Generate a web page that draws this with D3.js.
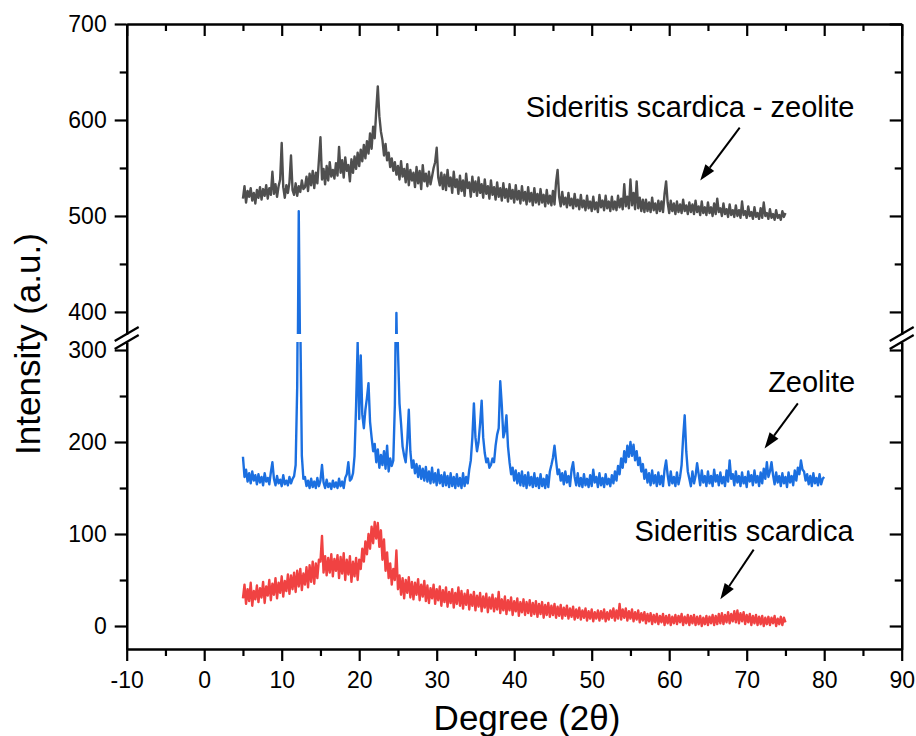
<!DOCTYPE html>
<html>
<head>
<meta charset="utf-8">
<script src="https://cdn.jsdelivr.net/npm/d3@7"></script>
<style>
  body { margin: 0; background: #fff; }
  text { font-family: "Liberation Sans", Arial, sans-serif; fill: #000; }
</style>
</head>
<body>
<div class="chart"></div>
<script>

// XRD patterns: one value every 0.2 degrees (2 theta)
var angleStart = 5, angleStep = 0.2;

// Sideritis scardica - zeolite, 5.0 .. 75.0
var sideritisZeolite = [
  518, 531, 514, 526, 520, 529, 516, 524, 513, 527,
  519, 530, 517, 528, 521, 532, 518, 529, 522, 546,
  523, 533, 520, 531, 538, 576, 530, 519, 532, 524,
  535, 563, 527, 522, 534, 521, 531, 525, 537, 528,
  530, 541, 526, 544, 532, 547, 529, 545, 534, 558,
  582, 538, 549, 533, 552, 537, 556, 541, 548, 539,
  555, 542, 572, 545, 558, 540, 561, 547, 553, 536,
  559, 545, 562, 549, 566, 552, 569, 557, 574, 560,
  578, 565, 586, 570, 593, 581, 610, 635, 604, 588,
  579, 563, 575, 558, 566, 551, 560, 547, 556, 543,
  552, 538, 557, 541, 549, 535, 554, 532, 548, 537,
  545, 530, 551, 534, 547, 528, 553, 536, 544, 531,
  546, 533, 541, 550, 556, 571, 540, 532, 545, 528,
  543, 527, 548, 531, 540, 524, 546, 530, 538, 523,
  542, 526, 537, 521, 544, 529, 535, 520, 541, 525,
  536, 521, 540, 524, 533, 519, 538, 523, 531, 518,
  537, 522, 530, 517, 535, 520, 529, 516, 534, 519,
  528, 515, 533, 518, 527, 514, 532, 517, 526, 513,
  531, 516, 525, 512, 530, 515, 524, 511, 529, 514,
  523, 512, 528, 514, 522, 510, 527, 513, 521, 511,
  526, 512, 535, 548, 520, 510, 525, 512, 519, 509,
  524, 511, 518, 508, 523, 510, 517, 507, 522, 509,
  516, 506, 521, 508, 515, 505, 520, 507, 514, 504,
  522, 509, 516, 506, 521, 508, 515, 505, 520, 507,
  515, 506, 521, 509, 518, 507, 533, 510, 520, 508,
  538, 511, 524, 507, 536, 508, 519, 505, 517, 504,
  517, 505, 514, 504, 519, 506, 513, 503, 516, 505,
  515, 504, 523, 536, 514, 503, 516, 505, 513, 502,
  515, 504, 512, 503, 517, 505, 511, 502, 514, 504,
  512, 502, 516, 504, 510, 501, 515, 503, 509, 501,
  514, 503, 509, 500, 513, 502, 518, 504, 508, 500,
  513, 502, 507, 499, 512, 501, 506, 499, 511, 500,
  506, 498, 515, 501, 505, 498, 510, 500, 504, 497,
  509, 499, 503, 497, 508, 498, 514, 500, 503, 497,
  507, 498, 502, 496, 506, 498, 501, 496, 505, 499,
  503
];

// Zeolite, 5.0 .. 80.0
var zeolite = [
  184, 162, 170, 157, 166, 155, 168, 158, 164, 154,
  165, 156, 162, 153, 166, 157, 161, 154, 167, 178,
  160, 153, 163, 155, 159, 152, 164, 154, 158, 153,
  162, 155, 160, 163, 175, 260, 505, 330, 185, 160,
  162, 152, 158, 150, 160, 151, 157, 150, 161, 152,
  158, 175, 156, 150, 159, 151, 155, 149, 158, 151,
  156, 150, 160, 152, 157, 150, 161, 165, 178, 158,
  160, 166, 185, 240, 308, 225, 294, 230, 215, 235,
  248, 264, 222, 205, 190, 198, 178, 192, 172, 186,
  175, 190, 171, 196, 168, 182, 174, 180, 240, 399,
  300, 242, 220, 195, 185, 178, 200, 235, 190, 172,
  180, 166, 176, 162, 174, 160, 171, 158, 173, 157,
  168, 155, 172, 156, 166, 153, 170, 155, 164, 152,
  167, 153, 163, 151, 166, 152, 162, 150, 165, 152,
  161, 150, 166, 152, 162, 155, 170, 180, 205, 242,
  205, 190, 200, 220, 245, 205, 188, 178, 182, 172,
  175, 182, 178, 196, 208, 215, 266, 240, 205, 212,
  229, 195, 178, 165, 172, 158, 169, 155, 166, 153,
  168, 152, 164, 150, 167, 153, 162, 151, 166, 152,
  161, 150, 165, 152, 160, 150, 164, 151, 168, 175,
  183, 196, 180, 165, 170, 158, 166, 154, 168, 156,
  163, 152, 170, 178, 162, 153, 166, 152, 161, 151,
  165, 153, 160, 151, 164, 152, 170, 156, 162, 151,
  166, 153, 161, 151, 165, 154, 160, 152, 164, 155,
  168, 158, 174, 165, 182, 172, 190, 178, 196, 184,
  200, 185, 197, 180, 190, 175, 183, 168, 176, 160,
  170, 156, 166, 153, 169, 155, 164, 152, 167, 154,
  163, 152, 170, 180, 164, 153, 168, 155, 162, 152,
  167, 154, 162, 175, 205, 229, 190, 168, 160, 152,
  168, 155, 163, 177, 165, 153, 169, 156, 163, 152,
  168, 155, 163, 152, 170, 157, 164, 153, 167, 155,
  162, 152, 169, 157, 180, 160, 165, 153, 168, 156,
  163, 152, 167, 155, 162, 151, 168, 157, 164, 153,
  169, 156, 163, 152, 167, 155, 171, 160, 178, 162,
  168, 178, 164, 154, 167, 156, 163, 152, 166, 155,
  162, 151, 167, 156, 163, 153, 169, 158, 172, 165,
  180, 170, 168, 158, 165, 154, 163, 152, 166, 155,
  161, 153, 165, 154, 160,
  162
];

// Sideritis scardica, 5.0 .. 75.0
var sideritis = [
  30, 45, 24, 40, 27, 47, 22, 38, 29, 44,
  26, 41, 31, 48, 25, 43, 33, 50, 28, 46,
  34, 52, 30, 47, 36, 54, 32, 49, 38, 56,
  35, 55, 40, 58, 37, 60, 43, 62, 39, 57,
  45, 64, 42, 66, 48, 70, 46, 68, 52, 72,
  70, 98, 58, 76, 55, 74, 58, 78, 54, 73,
  60, 77, 52, 75, 57, 79, 50, 72, 56, 76,
  48, 70, 54, 74, 50, 72, 62, 84, 70, 92,
  78, 100, 84, 108, 90, 113, 95, 112, 86, 104,
  72, 94, 60, 80, 52, 68, 45, 62, 50, 82,
  40, 55, 34, 52, 30, 50, 36, 53, 31, 48,
  29, 47, 34, 51, 28, 45, 32, 49, 27, 44,
  25, 41, 30, 45, 24, 40, 28, 43, 22, 39,
  26, 42, 21, 37, 25, 40, 20, 36, 24, 42,
  22, 38, 19, 35, 23, 39, 18, 34, 22, 37,
  17, 33, 21, 36, 16, 32, 20, 35, 15, 31,
  19, 34, 16, 30, 18, 37, 14, 29, 17, 32,
  13, 28, 17, 31, 12, 27, 16, 30, 11, 26,
  15, 29, 12, 26, 14, 28, 11, 25, 13, 27,
  10, 24, 13, 26, 9, 23, 12, 25, 10, 22,
  12, 24, 9, 21, 11, 23, 8, 20, 11, 22,
  8, 19, 10, 21, 7, 18, 9, 20, 7, 17,
  9, 19, 6, 16, 8, 18, 5, 15, 8, 17,
  6, 16, 8, 18, 5, 15, 7, 17, 9, 19,
  6, 17, 8, 24, 7, 18, 9, 19, 6, 16,
  8, 18, 5, 15, 7, 17, 4, 14, 6, 15,
  3, 13, 5, 14, 2, 12, 4, 13, 2, 11,
  4, 13, 1, 11, 3, 12, 1, 10, 3, 12,
  2, 11, 4, 13, 1, 10, 3, 12, 1, 11,
  3, 12, 1, 10, 2, 11, 0, 9, 2, 11,
  1, 10, 3, 12, 1, 11, 2, 13, 3, 14,
  2, 12, 4, 15, 3, 13, 5, 16, 4, 17,
  3, 14, 5, 15, 2, 12, 4, 13, 1, 11,
  3, 12, 1, 10, 2, 11, 0, 9, 2, 10,
  1, 9, 3, 11, 0, 8, 2, 10, 1, 9,
  4
];

var seriesNames = ["Sideritis scardica - zeolite", "Zeolite", "Sideritis scardica"];
var seriesColors = ["#4f4f4f", "#1b6fe0", "#f04242"];

// tick values
var xTicks = [-10, 0, 10, 20, 30, 40, 50, 60, 70, 80, 90];
var xMinorTicks = [-5, 5, 15, 25, 35, 45, 55, 65, 75, 85];
var yTicksUpper = [400, 500, 600, 700];
var yMinorUpper = [450, 550, 650];
var yTicksLower = [0, 100, 200, 300];
var yMinorLower = [50, 150, 250];

// label / arrow anchors in data units: [angle, intensity]
var labelPos = [[83.9, 603], [84, 254], [83.8, 92]];
var arrows = [
  [[69.1, 592], [64.0, 537]],
  [[76.6, 242], [72.3, 193]],
  [[70.9, 83], [66.6, 29]]
];

var svgWidth = 916, svgHeight = 736;
var plot = { left: 126.7, right: 901.7, top: 24, bottom: 649, breakTop: 334, breakBottom: 342 };

var svg = d3.select(".chart")
  .append("svg")
  .attr("width", svgWidth)
  .attr("height", svgHeight);

var x = d3.scaleLinear().domain([-10, 90]).range([plot.left, plot.right]);
// broken y axis: two panels
var yUpper = d3.scaleLinear().domain([377, 700]).range([plot.breakTop, plot.top]);
var yLower = d3.scaleLinear().domain([-25, 308.7]).range([plot.bottom, plot.breakBottom]);

var defs = svg.append("defs");
defs.append("clipPath").attr("id", "clipUpper").append("rect")
  .attr("x", plot.left).attr("y", plot.top)
  .attr("width", plot.right - plot.left).attr("height", plot.breakTop - plot.top);
defs.append("clipPath").attr("id", "clipLower").append("rect")
  .attr("x", plot.left).attr("y", plot.breakBottom)
  .attr("width", plot.right - plot.left).attr("height", plot.bottom - plot.breakBottom);

function lineFor(yScale) {
  return d3.line()
    .x((d, i) => x(angleStart + i * angleStep))
    .y(d => yScale(d));
}

function drawSeries(values, color, yScale, clipId) {
  svg.append("path")
    .datum(values)
    .attr("clip-path", `url(#${clipId})`)
    .attr("fill", "none")
    .attr("stroke", color)
    .attr("stroke-width", 2.4)
    .attr("stroke-linejoin", "round")
    .attr("d", lineFor(yScale));
}

drawSeries(sideritisZeolite, seriesColors[0], yUpper, "clipUpper");
drawSeries(zeolite, seriesColors[1], yUpper, "clipUpper");
drawSeries(zeolite, seriesColors[1], yLower, "clipLower");
drawSeries(sideritis, seriesColors[2], yLower, "clipLower");

// axes
var axes = svg.append("g").attr("class", "axes");

axes.append("g")
  .attr("transform", `translate(0, ${plot.bottom})`)
  .call(d3.axisBottom(x).tickValues(xTicks).tickSize(12).tickSizeOuter(0)
    .tickPadding(11).tickFormat(d => String(d)));
axes.append("g")
  .attr("transform", `translate(0, ${plot.bottom})`)
  .call(d3.axisBottom(x).tickValues(xMinorTicks).tickSize(7).tickSizeOuter(0).tickFormat(""));

axes.append("g")
  .attr("transform", `translate(0, ${plot.top})`)
  .call(d3.axisTop(x).tickValues(xTicks).tickSize(-12).tickSizeOuter(0).tickFormat(""));
axes.append("g")
  .attr("transform", `translate(0, ${plot.top})`)
  .call(d3.axisTop(x).tickValues(xMinorTicks).tickSize(-7).tickSizeOuter(0).tickFormat(""));

[[yUpper, yTicksUpper, yMinorUpper], [yLower, yTicksLower, yMinorLower]].forEach(function(p) {
  axes.append("g")
    .attr("transform", `translate(${plot.left}, 0)`)
    .call(d3.axisLeft(p[0]).tickValues(p[1]).tickSize(12).tickSizeOuter(0)
      .tickPadding(8).tickFormat(d => String(d)));
  axes.append("g")
    .attr("transform", `translate(${plot.left}, 0)`)
    .call(d3.axisLeft(p[0]).tickValues(p[2]).tickSize(7).tickSizeOuter(0).tickFormat(""));
  axes.append("g")
    .attr("transform", `translate(${plot.right}, 0)`)
    .call(d3.axisRight(p[0]).tickValues(p[1]).tickSize(-12).tickSizeOuter(0).tickFormat(""));
  axes.append("g")
    .attr("transform", `translate(${plot.right}, 0)`)
    .call(d3.axisRight(p[0]).tickValues(p[2]).tickSize(-7).tickSizeOuter(0).tickFormat(""));
});

axes.selectAll("path.domain").attr("stroke", "#000").attr("stroke-width", 2.2);
axes.selectAll(".tick line").attr("stroke", "#000").attr("stroke-width", 2.2);
axes.selectAll(".tick text")
  .style("font-family", '"Liberation Sans", Arial, sans-serif')
  .style("font-size", "23px")
  .attr("fill", "#000");

// break marks on both sides
[plot.left, plot.right].forEach(function(ax) {
  [plot.breakTop, plot.breakBottom].forEach(function(yc) {
    svg.append("line")
      .attr("x1", ax - 12).attr("y1", yc + 7)
      .attr("x2", ax + 12).attr("y2", yc - 7)
      .attr("stroke", "#000").attr("stroke-width", 2.2);
  });
});

// axis titles
svg.append("text")
  .attr("text-anchor", "middle")
  .attr("x", 527)
  .attr("y", 730)
  .style("font-size", "35px")
  .text("Degree (2\u03b8)");

svg.append("text")
  .attr("text-anchor", "middle")
  .attr("transform", "translate(40, 344) rotate(-90)")
  .style("font-size", "35px")
  .text("Intensity (a.u.)");

// series labels with arrows
seriesNames.forEach(function(name, i) {
  svg.append("text")
    .attr("text-anchor", "end")
    .attr("x", x(labelPos[i][0]))
    .attr("y", (i === 0 ? yUpper : yLower)(labelPos[i][1]))
    .style("font-size", "29px")
    .text(name);
});

arrows.forEach(function(a, i) {
  var ys = i === 0 ? yUpper : yLower;
  var x1 = x(a[0][0]), y1 = ys(a[0][1]), x2 = x(a[1][0]), y2 = ys(a[1][1]);
  var ang = Math.atan2(y2 - y1, x2 - x1);
  var len = 16, half = 5.5;
  var bx = x2 - len * Math.cos(ang), by = y2 - len * Math.sin(ang);
  svg.append("line")
    .attr("x1", x1).attr("y1", y1).attr("x2", bx).attr("y2", by)
    .attr("stroke", "#000").attr("stroke-width", 2);
  svg.append("path")
    .attr("d", `M${x2},${y2}L${bx + half * Math.sin(ang)},${by - half * Math.cos(ang)}` +
      `L${bx - half * Math.sin(ang)},${by + half * Math.cos(ang)}Z`)
    .attr("fill", "#000");
});

</script>
</body>
</html>
